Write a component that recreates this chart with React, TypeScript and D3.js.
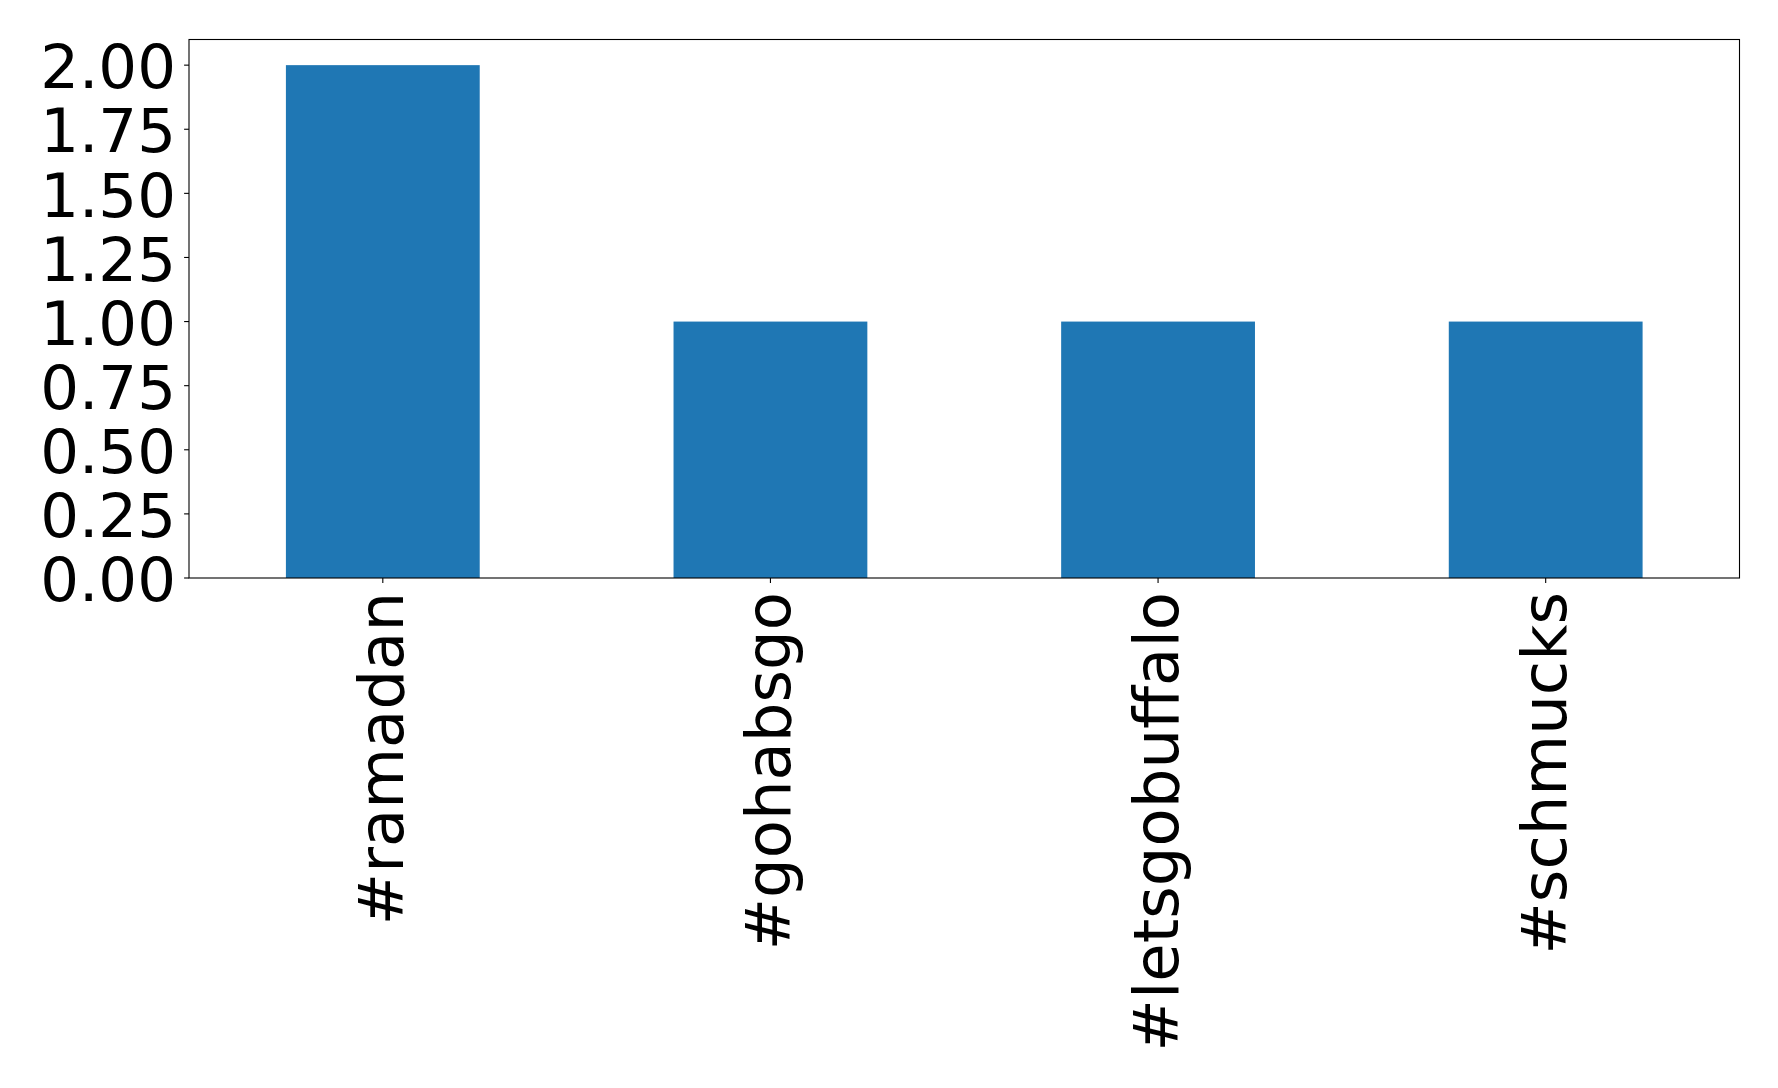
import React from "react";
import * as d3 from "d3";

const categories = ["#ramadan", "#gohabsgo", "#letsgobuffalo", "#schmucks"];
const counts = [2, 1, 1, 1];
const yTicks = [0, 0.25, 0.5, 0.75, 1.0, 1.25, 1.5, 1.75, 2.0];

export default function App() {
  const W = 1778, H = 1088;
  const left = 189, right = 1739.5, top = 39.5, bottom = 578;
  const x = d3.scaleBand<string>().domain(categories).range([left, right]).paddingInner(0.5).paddingOuter(0.25);
  const y = d3.scaleLinear().domain([0, 2.1]).range([bottom, top]);
  const font = "DejaVu Sans";
  const fs = 61;
  const fsx = 62.5;
  return (
    <svg width={W} height={H} style={{ position: "absolute", left: 0, top: 0 }} fontFamily={font}>
      <rect x={0} y={0} width={W} height={H} fill="white" />
      {categories.map((c, i) => (
        <rect key={c} x={x(c)!} y={y(counts[i])} width={x.bandwidth()} height={y(0) - y(counts[i])} fill="#1f77b4" />
      ))}
      <rect x={left} y={top} width={right - left} height={bottom - top} fill="none" stroke="black" strokeWidth={1.1} />
      {yTicks.map((t) => (
        <g key={t}>
          <line x1={left - 4.9} x2={left} y1={y(t)} y2={y(t)} stroke="black" strokeWidth={1.1} />
          <text x={left - 13} y={y(t)} dy="0.38em" textAnchor="end" fontSize={fs} fill="black">
            {t.toFixed(2)}
          </text>
        </g>
      ))}
      {categories.map((c) => {
        const cx = x(c)! + x.bandwidth() / 2;
        return (
          <g key={c}>
            <line x1={cx} x2={cx} y1={bottom} y2={bottom + 4.9} stroke="black" strokeWidth={1.1} />
            <text transform={`translate(${cx},${bottom + 14}) rotate(-90)`} dy="0.32em" textAnchor="end" fontSize={fsx} fill="black">
              {c}
            </text>
          </g>
        );
      })}
    </svg>
  );
}
